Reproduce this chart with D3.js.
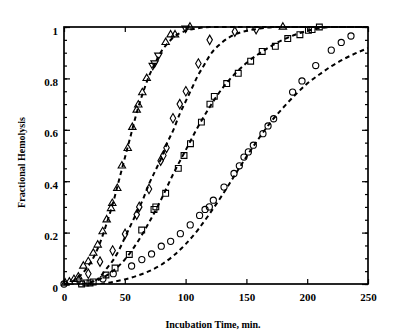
<!DOCTYPE html>
<html>
<head>
<meta charset="utf-8">
<script src="https://cdn.jsdelivr.net/npm/d3@7"></script>
<style>
  html, body { margin: 0; padding: 0; background: #fff; }
  svg { display: block; }
  text { font-family: "Liberation Serif", "Times New Roman", serif; font-weight: bold; fill: #000; }
</style>
</head>
<body>
<svg id="chart" width="407" height="336"></svg>
<script>
// Observed fractional hemolysis vs. incubation time [minutes, fraction]
const trianglesUp = [[1,0.004],[4.4,0.008],[8.2,0.018],[11.8,0.028],[15.9,0.07],[20,0.087],[24.1,0.12],[27.7,0.152],[31.8,0.204],[35.1,0.25],[38.7,0.294],[39.7,0.314],[43.8,0.372],[47.6,0.46],[52.4,0.528],[56.2,0.61],[59.8,0.677],[61.1,0.697],[64.4,0.745],[68,0.80],[83.6,0.94],[87.7,0.97],[91.3,0.97],[103.6,1.0],[180,1.0]];
const trianglesDown = [[73,0.85],[74.5,0.86],[77.6,0.89],[100,0.995],[158,0.99]];
const diamonds = [[12,0.015],[20,0.04],[29.6,0.087],[40,0.13],[50.2,0.195],[59.8,0.27],[61.9,0.30],[69.9,0.37],[79.5,0.48],[81.7,0.50],[84.3,0.53],[89.6,0.645],[95.2,0.70],[100.2,0.75],[110.5,0.858],[119.8,0.95],[140.5,0.982]];
const squares = [[14.5,0.0],[18,0.004],[21.4,0.004],[24,0.008],[34.5,0.035],[42,0.062],[53.7,0.115],[63.9,0.21],[74,0.29],[75.5,0.30],[83.6,0.353],[94,0.45],[98.7,0.50],[104,0.546],[113,0.63],[120,0.70],[123.6,0.73],[133.8,0.78],[143.3,0.82],[153.5,0.867],[163,0.905],[173.8,0.925],[184,0.955],[194,0.97],[201,0.987],[204,0.99],[210,1.0]];
const circles = [[0,0.0],[32,0.02],[40.5,0.04],[55.6,0.07],[64,0.095],[72,0.117],[80,0.147],[87.7,0.166],[95.7,0.196],[103.8,0.23],[111.5,0.267],[116,0.29],[119.5,0.30],[122.8,0.326],[131.6,0.377],[139.8,0.43],[144.2,0.46],[148,0.494],[151.6,0.514],[155.7,0.54],[163.6,0.585],[167.8,0.615],[172.4,0.643],[188,0.747],[195.7,0.79],[207,0.85],[219.8,0.91],[228,0.94],[236,0.965]];

// Fitted model curves [minutes, fraction]
const triangleFit = [[0,0],[5,0.005],[10,0.02],[15,0.04],[20,0.07],[25,0.11],[30,0.165],[35,0.235],[40,0.31],[45,0.40],[50,0.49],[55,0.58],[60,0.67],[65,0.745],[70,0.81],[75,0.86],[80,0.905],[85,0.935],[90,0.96],[100,0.985],[110,0.995],[120,1.0],[250,1.0]];
const diamondFit = [[20,0],[25,0.01],[30,0.03],[35,0.06],[40,0.09],[45,0.13],[50,0.18],[55,0.23],[60,0.28],[65,0.33],[70,0.39],[75,0.44],[80,0.49],[85,0.55],[90,0.60],[95,0.66],[100,0.71],[105,0.76],[110,0.81],[115,0.85],[120,0.89],[130,0.94],[140,0.97],[150,0.985],[160,0.993],[175,1.0],[250,1.0]];
const squareFit = [[15,0],[20,0.005],[30,0.02],[40,0.05],[50,0.095],[60,0.16],[70,0.24],[80,0.33],[90,0.43],[100,0.52],[110,0.61],[120,0.69],[130,0.76],[140,0.815],[150,0.86],[160,0.895],[170,0.925],[180,0.95],[190,0.97],[200,0.985],[210,0.995],[220,1.0],[250,1.0]];
const circleFit = [[30,0],[40,0.008],[50,0.018],[60,0.032],[70,0.05],[80,0.075],[90,0.11],[100,0.155],[110,0.21],[120,0.275],[130,0.345],[140,0.42],[150,0.495],[160,0.565],[170,0.63],[180,0.685],[190,0.735],[200,0.78],[210,0.815],[220,0.848],[230,0.875],[240,0.898],[250,0.918]];

// Axis ticks
const xTicks = [0, 50, 100, 150, 200, 250];
const yTicks = [0, 0.2, 0.4, 0.6, 0.8, 1];
const yMinorTicks = d3.range(0, 1.0001, 0.05);
const xTitle = "Incubation Time, min.";
const yTitle = "Fractional Hemolysis";

const svg = d3.select("#chart");
const plotLeft = 64, plotRight = 368, plotTop = 27, plotBottom = 284;

const x = d3.scaleLinear().domain([0, 250]).range([plotLeft, plotRight]);
const y = d3.scaleLinear().domain([0, 1]).range([plotBottom, plotTop]);

const fmtY = d => d === 0 ? "0" : d === 1 ? "1" : d3.format(".1f")(d);

// Bottom axis with labels, ticks pointing inward
const gx = svg.append("g").attr("transform", `translate(0,${plotBottom})`)
  .call(d3.axisBottom(x).tickValues(xTicks).tickSize(-5).tickPadding(9).tickFormat(d3.format("d")));
gx.selectAll("text").style("font-size", "11px");

svg.append("g").attr("transform", `translate(0,${plotTop})`)
  .call(d3.axisTop(x).tickValues(xTicks).tickSize(-5).tickFormat(""));

// Left axis: major labelled ticks plus minor ticks
const gy = svg.append("g").attr("transform", `translate(${plotLeft},0)`)
  .call(d3.axisLeft(y).tickValues(yTicks).tickSize(-6).tickPadding(6).tickFormat(fmtY));
gy.selectAll("text").style("font-size", "11px").attr("y", 3.5);
svg.append("g").attr("transform", `translate(${plotLeft},0)`)
  .call(d3.axisLeft(y).tickValues(yMinorTicks).tickSize(-3).tickFormat(""));

svg.append("g").attr("transform", `translate(${plotRight},0)`)
  .call(d3.axisRight(y).tickValues(yTicks).tickSize(-6).tickFormat(""));
svg.append("g").attr("transform", `translate(${plotRight},0)`)
  .call(d3.axisRight(y).tickValues(yMinorTicks).tickSize(-3).tickFormat(""));

svg.selectAll(".domain").remove();
svg.selectAll(".tick line").attr("stroke", "#000").attr("stroke-width", 1.2);

// Plot frame
svg.append("rect")
  .attr("x", plotLeft).attr("y", plotTop)
  .attr("width", plotRight - plotLeft).attr("height", plotBottom - plotTop)
  .attr("fill", "none").attr("stroke", "#000").attr("stroke-width", 1.7);

// Clip for fitted curves
svg.append("defs").append("clipPath").attr("id", "plotClip")
  .append("rect").attr("x", plotLeft).attr("y", plotTop - 1)
  .attr("width", plotRight - plotLeft).attr("height", plotBottom - plotTop + 1);

const line = d3.line().x(d => x(d[0])).y(d => y(d[1])).curve(d3.curveMonotoneX);

const fits = svg.append("g").attr("clip-path", "url(#plotClip)");
[triangleFit, diamondFit, squareFit, circleFit].forEach(f => {
  fits.append("path")
    .attr("d", line(f))
    .attr("fill", "none")
    .attr("stroke", "#000")
    .attr("stroke-width", 2)
    .attr("stroke-dasharray", "4.5,3.5");
});

// Data markers
function drawMarkers(data, type, size, rotate) {
  const sym = d3.symbol().type(type).size(size);
  svg.append("g").selectAll("path").data(data).join("path")
    .attr("d", sym)
    .attr("transform", d => `translate(${x(d[0])},${y(d[1])}) rotate(${rotate})`)
    .attr("fill", "none")
    .attr("stroke", "#000")
    .attr("stroke-width", 1.1);
}
drawMarkers(circles, d3.symbolCircle, 30, 0);
drawMarkers(squares, d3.symbolSquare, 34, 0);
drawMarkers(diamonds, d3.symbolDiamond, 26, 0);
drawMarkers(trianglesUp, d3.symbolTriangle, 24, 0);
drawMarkers(trianglesDown, d3.symbolTriangle, 24, 180);

// Axis titles
svg.append("text")
  .attr("x", (plotLeft + plotRight) / 2 - 3).attr("y", 327.5)
  .attr("text-anchor", "middle")
  .style("font-size", "10px")
  .text(xTitle);

svg.append("text")
  .attr("transform", `translate(24.5,${162.5}) rotate(-90)`)
  .attr("text-anchor", "middle")
  .style("font-size", "10px")
  .text(yTitle);
</script>
</body>
</html>
